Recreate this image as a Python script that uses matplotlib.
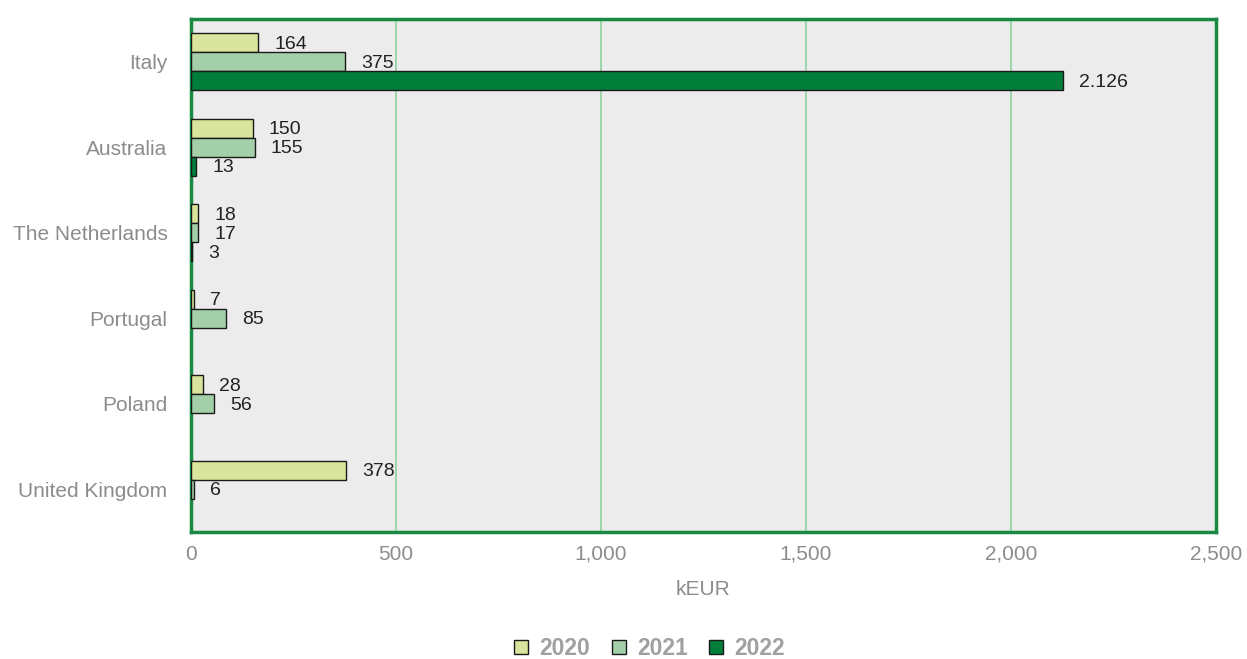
import numpy as np
import matplotlib.pyplot as plt
from matplotlib.patches import Patch

plt.rcParams['font.family'] = ['Liberation Sans', 'DejaVu Sans']

countries = ['Italy', 'Australia', 'The Netherlands', 'Portugal', 'Poland', 'United Kingdom']
years = ['2020', '2021', '2022']
# None = no bar for that year
v2020 = [164, 150, 18, 7, 28, 378]
v2021 = [375, 155, 17, 85, 56, 6]
v2022 = [2126, 13, 3, None, None, None]
labels2022 = ['2.126', '13', '3', None, None, None]

colors = ['#d9e59c', '#a3cfa9', '#007e3a']

fig = plt.figure(figsize=(12.47, 6.59), dpi=100)
ax = fig.add_axes([0.1532, 0.1927, 0.8219, 0.7785])
ax.set_facecolor('#ececec')

ypos = np.arange(len(countries))[::-1]
h = 0.222
series = [v2020, v2021, v2022]
offsets = [h, 0, -h]

for s, (vals, off, col) in enumerate(zip(series, offsets, colors)):
    for i, v in enumerate(vals):
        if v is None:
            continue
        y = ypos[i] + off
        ax.barh(y, v, height=h, color=col, edgecolor='#1a1a1a', linewidth=1, zorder=3)
        txt = labels2022[i] if s == 2 else str(v)
        ax.text(v + 40, y - 0.02, txt, va='center', ha='left', fontsize=14,
                color='#222222', zorder=4)

ax.set_xlim(0, 2500)
ax.set_ylim(-0.5, 5.5)
ax.set_xticks([0, 500, 1000, 1500, 2000, 2500])
ax.set_xticklabels(['0', '500', '1,000', '1,500', '2,000', '2,500'])
ax.set_yticks(ypos)
ax.set_yticklabels(countries)
ax.tick_params(axis='both', length=0, labelsize=15, colors='#8c8c8c')
ax.tick_params(axis='x', pad=9)
ax.tick_params(axis='y', pad=17)
ax.xaxis.grid(True, color='#8fd19e', linewidth=1.2, zorder=1)
ax.set_axisbelow(True)
for sp in ax.spines.values():
    sp.set_color('#1a8a40')
    sp.set_linewidth(2.5)

ax.set_xlabel('kEUR', fontsize=15, color='#8c8c8c', labelpad=12)

handles = [Patch(facecolor=c, edgecolor='#1a1a1a', linewidth=1) for c in colors]
leg = fig.legend(handles, years, loc='center', bbox_to_anchor=(0.521, 0.016), ncol=3,
                 frameon=False, fontsize=16.5, handlelength=0.6, handleheight=0.6,
                 handletextpad=0.5, columnspacing=0.95, borderpad=0.2)
for t in leg.get_texts():
    t.set_color('#a0a0a0')
    t.set_fontweight('bold')

fig.savefig('out.png', dpi=100)
